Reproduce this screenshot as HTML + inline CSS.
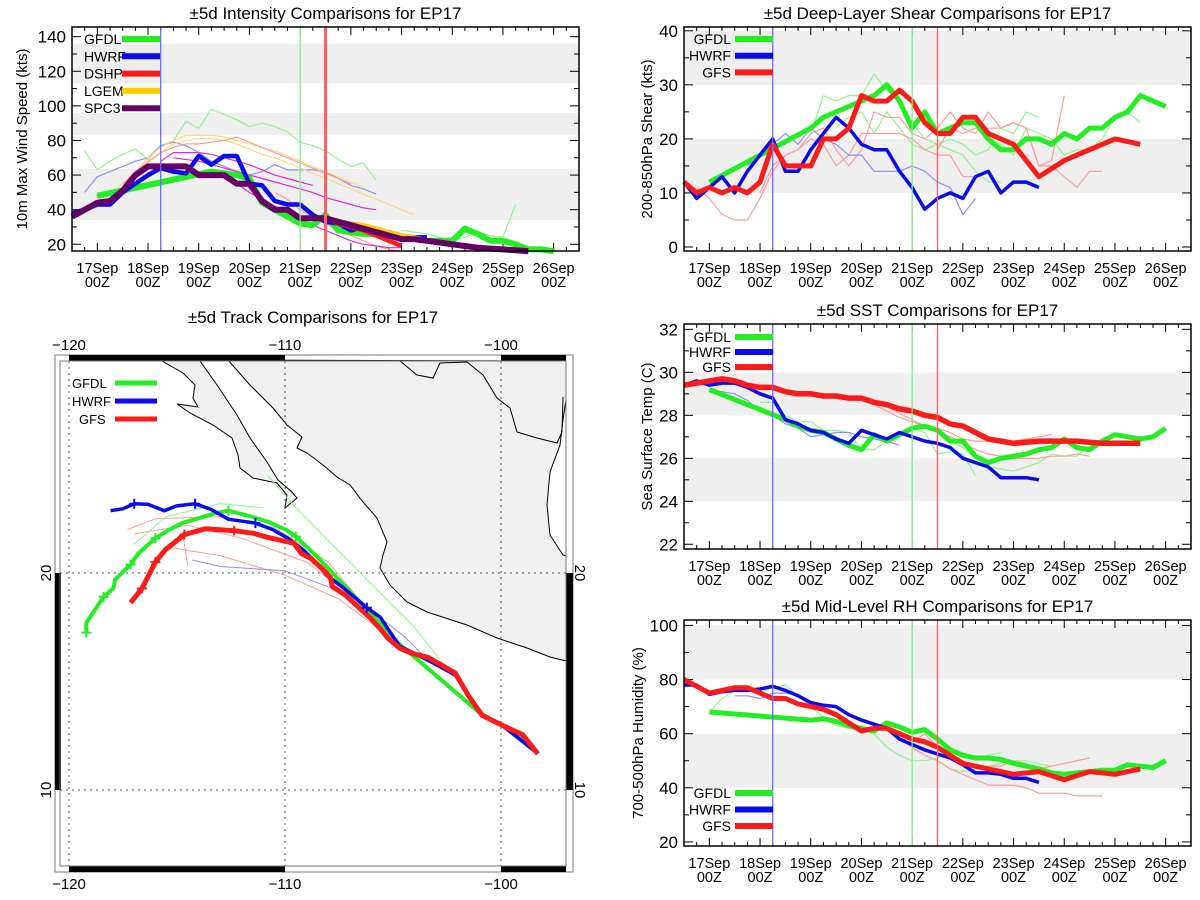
<!DOCTYPE html>
<html><head><meta charset="utf-8"><title>EP17 comparisons</title>
<style>
html,body{margin:0;padding:0;background:#fff;}
svg{display:block;font-family:"Liberation Sans",sans-serif;}
</style></head>
<body>
<svg id="root" width="1200" height="900" viewBox="0 0 1200 900" xmlns="http://www.w3.org/2000/svg"></svg>
<script>
// ---------- shared categories ----------
const dayLabels = ['17Sep','18Sep','19Sep','20Sep','21Sep','22Sep','23Sep','24Sep','25Sep','26Sep'];
const hourLabel = '00Z';
const refLineTimes = [1.25, 4.0, 4.5];

// ---------- intensity data (kts) ----------
const intTicks = [20,40,60,80,100,120,140];
const intBands = [[34,63.5],[83,96],[113,136]];
const intGFDLTimes = [0,2.25,2.5,2.75,3.0,3.25,3.5,3.75,4.0,4.25,4.5,4.75,5.0,5.25,5.5,5.75,6,6.25,6.5,6.75,7,7.25,7.5,7.75,8,8.25,8.5,8.75,9];
const intGFDL = [48,62,61,60,58,44,40,36,32,31,37,28,27,26,26,25,24,23,22,22,22,29,26,22,22,20,17,17,16];
const intHWRF = [38,40,43,43,50,55,60,64,62,61,71,66,71,71,55,54,45,43,43,37,33,32,28,30,26,27,25,24,24];
const intDSHP = [35,32,30,28,25,22,19];
const intLGEM = [35,33,32,31,29,27,25,24,22,21,20,19,18,17.5,17,16.5,16];
const intSPC3 = [36,40,44,45,51,60,65,65,65,65,60,60,60,55,55,45,40,40,35,35,35,33,31,29,27,25,23,23,22,21,20,19,18,17.5,17,16.5,16];
const intThinGreen1 = [74,63,68,72,75,69,77,80,91,87,98,95,92,88,90,88,85,79,77,74,69,65,67,57];
const intThinGreen2 = [28,27,26,24,22,24,27,25,24,43];
const intThinBlue = [50,59,62,65,68,70,77,79,77,73,68,65,62,60,62,66,63,63,63,62,58,54,52,49];
const intThinOrange1 = [48,55,62,70,76,80,83,83,83,82,80,78,76,74,71,68,65,62,59,56,53];
const intThinOrange2 = [52,60,67,73,78,80,81,81,80,78,75,72,70,67,64,61,58,55,52,49,46,43,40,37];
const intThinPink1 = [55,62,68,73,76,78,78,79,80,82,79,76,73,70,67,64,61,58,55];
const intThinPink2 = [50,46,40,36,32,28,25,22,19,17,16];
const intThinMag1 = [68,73,73,73,72,70,68,66,63,60,58,56,54];
const intThinMag2 = [70,69,68,66,64,62,60,58,56,54,52,50,47,45,43,41,40];
const intThinMag3 = [58,55,50,46,42,38,34,31,28,25,22,20,19,18,18];

// ---------- shear data (kts) ----------
const shTicks = [0,10,20,30,40];
const shBands = [[10,20],[30,40]];
const shGFDLTimes = [0,2.0,2.25,2.5,2.75,3.0,3.25,3.5,3.75,4.0,4.25,4.5,4.75,5.0,5.25,5.5,5.75,6.0,6.25,6.5,6.75,7.0,7.25,7.5,7.75,8.0,8.25,8.5,8.75,9.0];
const shGFDL = [12,22,24,25,26,27,28,30,27,22,25,21,22,23,23,20,18,18,20,20,19,21,20,22,22,24,25,28,27,26];
const shHWRF = [12,9,11,13,10,14,17,20,14,14,18,21,24,22,19,18,18,14,11,7,9,10,9,13,14,10,12,12,11];
const shGFS = [12,10,11,10,11,10,12,19,15,15,15,20,20,22,28,27,27,29,27,23,21,21,24,24,21,20,19,16,13,14.5,16,17,18,19,20,19.5,19];
const shThinGreen1 = [21,28,27,28,28,32,29,27,23,20,19,18,17,14,12,12];
const shThinGreen2 = [22,24,25,21,25,22,19,18,19,20,19,17,18,22,21,25,24];
const shThinGreen3 = [20,19,17,22,21,20,17,18,18,20,24,25,23];
const shThinRed1 = [11,9,6,5,5,9,14,17,18,20,19,15,17,21,21,21,21,20,18,17,17,13,13];
const shThinRed2 = [10,15,17,18,21,22,18,15,18,25,24,24,21,20,22,25,22,21,25,22,23,22,15,16,28];
const shThinRed3 = [18,22,21,22,22,22,23,22,15,15,13,11,14,14];
const shThinBlue = [15,17,19,21,19,22,20,19,17,17,14,14,14,15,14,12,11,6,9];

// ---------- SST data (C) ----------
const sstTicks = [22,24,26,28,30,32];
const sstBands = [[24,26],[28,30]];
const sstGFDLTimes = [0,1.5,1.75,2.0,2.25,2.5,2.75,3.0,3.25,3.5,3.75,4.0,4.25,4.5,4.75,5.0,5.25,5.5,5.75,6.0,6.25,6.5,6.75,7.0,7.25,7.5,7.75,8.0,8.25,8.5,8.75,9.0];
const sstGFDL = [29.2,27.8,27.5,27.3,27.2,26.9,26.6,26.4,27.1,26.8,27.1,27.4,27.5,27.3,26.8,26.8,26.1,25.8,26.0,26.1,26.2,26.4,26.5,26.9,26.5,26.4,26.8,27.1,27.0,26.9,27.0,27.4];
const sstHWRF = [29.4,29.6,29.4,29.5,29.5,29.3,29.0,28.8,27.8,27.6,27.3,27.2,26.9,26.7,27.3,27.1,26.9,27.2,27.0,26.8,26.7,26.5,26.0,25.8,25.6,25.1,25.1,25.1,25.0];
const sstGFS = [29.4,29.5,29.6,29.7,29.6,29.4,29.3,29.3,29.1,29.0,29.0,28.9,28.9,28.8,28.8,28.6,28.5,28.3,28.2,28.0,27.9,27.6,27.5,27.2,26.9,26.8,26.7,26.75,26.8,26.8,26.8,26.8,26.75,26.7,26.7,26.7,26.7];
const sstThinGreen1 = [28.6,28.6,28.0,27.7,27.7,27.3,27.3,27.2,26.4,26.4,26.8,27.1,27.4,27.2,26.2,26.3,26.2,25.2];
const sstThinGreen2 = [27.2,26.8,26.5,26.0,25.6,25.5,25.4,25.6,25.8,26.2,26.1,26.1,26.6];
const sstThinBlue = [29.1,29.1,29.0,28.7,28.2,28.0,27.6,27.4,27.0,27.1,27.2,27.2,27.0,26.9,26.8,26.6];
const sstThinRed1 = [28.8,28.5,28.2,27.9,27.7,27.5,27.2,27.0,26.7,26.4,26.2,26.1,26.0,26.0,26.0,26.1,26.1,26.2,26.1];
const sstThinRed2 = [28.4,28.1,27.8,27.5,27.4,27.2,26.9,26.8,26.8,26.8,26.8,26.9,27.0,27.1];

// ---------- RH data (%) ----------
const rhTicks = [20,40,60,80,100];
const rhBands = [[40,60],[80,100]];
const rhGFDLTimes = [0,2.0,2.25,2.5,2.75,3.0,3.25,3.5,3.75,4.0,4.25,4.5,4.75,5.0,5.25,5.5,5.75,6.0,6.25,6.5,6.75,7.0,7.25,7.5,7.75,8.0,8.25,8.5,8.75,9.0];
const rhGFDL = [68,65,65.5,64.5,63,62,61,64,62.5,60.5,61.5,58,54,52,51,51,50.5,49,48,47,45.5,45,45.5,46,46.5,46.5,48.5,48,47.5,50];
const rhHWRF = [78,78,74.5,75.5,76,76,76.5,77.5,76,74,71.5,70.5,70,67,65,63.5,62,58,56,54,52.5,51,48.5,45.5,45.5,45,43.5,43.5,42];
const rhGFS = [80,77.5,75,76,77,77,75,73,73,71,70,69,67,64,61,62,62,60,58,57,55,52,49,48,47,46,45,45.5,46,44.5,43,44.5,46,45.5,45,46,47];
const rhThinGreen1 = [68,73,76,76,75,77,78,74,70,66,63,62,61,60,55,52,50,50,51,53,52,51,52,53];
const rhThinGreen2 = [62,60,55,52,50,47,46,47,48,49,50,50,49,48];
const rhThinBlue = [74,74,73,75,75,74,71,69,67,64,61];
const rhThinRed1 = [62,58,55,52,50,47,45,43,41,41,41,40,38,38,38,37,37,37];
const rhThinRed2 = [57,60,55,52,49,48,48,48,50,49,47,48,49,50,51];

// ---------- track data (lon, lat) ----------
const lonTicks = [-120,-110,-100];
const latTicks = [10,20];
const trkGFSLon = [-117.15,-116.62,-116.0,-115.55,-114.66,-113.68,-112.35,-111.46,-110.84,-110.04,-109.59,-109.23,-108.79,-108.26,-107.90,-107.81,-107.19,-106.57,-106.03,-105.59,-105.23,-104.70,-104.16,-103.36,-102.12,-101.50,-100.87,-99.98,-99.00,-98.29];
const trkGFSLat = [18.63,19.29,20.5,21.06,21.77,22.04,21.95,21.83,21.65,21.47,21.37,20.89,20.67,20.18,19.79,19.38,18.97,18.40,17.91,17.43,16.99,16.54,16.31,16.10,15.39,14.33,13.44,13.00,12.55,11.67];
const trkHWRFLon = [-118.08,-117.51,-116.98,-116.35,-115.59,-115.02,-114.16,-113.42,-112.62,-111.37,-110.57,-109.86,-109.15,-108.61,-108.08,-107.37,-106.21,-105.59,-104.70,-103.27,-102.12,-100.87,-99.98,-99.18,-98.29];
const trkHWRFLat = [22.87,22.96,23.19,23.17,22.87,23.09,23.19,22.93,22.48,22.30,22.00,21.60,21.06,20.53,19.91,19.38,18.40,17.96,16.63,15.92,15.30,13.44,13.00,12.38,11.67];
const trkGFDLLon = [-119.20,-119.20,-118.40,-117.95,-117.86,-117.15,-116.80,-116.0,-115.37,-114.75,-113.24,-112.62,-111.46,-110.75,-109.95,-109.50,-108.43,-104.70,-100.96,-99.98,-99.0,-98.29];
const trkGFDLLat = [17.25,17.70,18.90,19.29,19.70,20.39,20.89,21.60,21.99,22.30,22.75,22.87,22.57,22.34,21.99,21.68,20.67,16.72,13.53,13.00,12.38,11.67];
const trkGFSMarkIdx = [1,2,4,6];
const trkHWRFMarkIdx = [2,6,9,16];
const trkGFDLMarkIdx = [0,2,5,7,11,15];
const trkThinPink1Lon = [-117.3,-116,-113,-110.5,-108,-105.5];
const trkThinPink1Lat = [22.0,22.5,22.6,22.1,20.5,17.5];
const trkThinPink2Lon = [-117,-114.5,-112,-109,-106.5,-105];
const trkThinPink2Lat = [21.8,22.2,21.6,20.5,18.6,17];
const trkThinPink3Lon = [-115.5,-113,-110,-107.5,-105.5];
const trkThinPink3Lat = [21.2,20.8,19.9,18.8,17.3];
const trkThinPink4Lon = [-114.7,-114.5];
const trkThinPink4Lat = [21.6,20.3];
const trkThinGreen1Lon = [-110.8,-109.5,-108,-106.5,-104,-102.2];
const trkThinGreen1Lat = [24.5,23.0,21.5,20.0,17.5,15.2];
const trkThinGreen2Lon = [-117,-115.5,-113,-111];
const trkThinGreen2Lat = [21.3,22.6,23.2,23.0];
const trkThinBlueLon = [-114.3,-113,-110,-107,-104.5,-103.3];
const trkThinBlueLat = [20.6,20.3,20.1,19.0,17.1,15.9];

// ---------- colors ----------
const C = {green:'#22ee22', blue:'#0a0aee', red:'#ff1a1a', gold:'#ffcc00', purple:'#660066',
  lgreen:'#8ef58e', lblue:'#8f8ff5', lred:'#ff9b9b', lgold:'#ffd97a', lpink:'#ff9fc0', mag:'#e22ae2'};

const NS = 'http://www.w3.org/2000/svg';
const root = document.getElementById('root');
function mk(tag, attrs, parent){
  const e = document.createElementNS(NS, tag);
  for (const k in attrs) e.setAttribute(k, attrs[k]);
  (parent||root).appendChild(e);
  return e;
}
function txt(s, x, y, size, anchor, parent, extra){
  const a = {x:x, y:y, 'font-size':size, 'text-anchor':anchor||'middle', fill:'#000'};
  if (extra) for (const k in extra) a[k] = extra[k];
  const t = mk('text', a, parent);
  t.textContent = s;
  return t;
}

function timePanel(p){
  const g = mk('g', {});
  
  
  const xs = t => p.L + (t - p.t0) / (p.t1 - p.t0) * (p.R - p.L);
  const ys = v => p.B - (v - p.vmin) / (p.vmax - p.vmin) * (p.B - p.T);
  p.bands.forEach(b => {
    const top = Math.min(b[1], p.vmax);
    const r = mk('rect', {x:p.L, y:ys(top), width:p.R-p.L, height:ys(b[0])-ys(top), fill:'#efefef'}, g);
    
    
  });
  const tt = txt(p.title, (p.L+p.R)/2, p.T-8, 17, 'middle', g);
  
  
  const yt = txt(p.ytitle, 0, 0, 15, 'middle', g, {transform:'translate('+p.ytx+','+((p.T+p.B)/2)+') rotate(-90)'});
  
  
  const step = p.yticks[1]-p.yticks[0];
  for (let v = p.yticks[0]-step/2; v <= p.vmax; v += step/2){
    if (v < p.vmin) continue;
    const major = p.yticks.indexOf(v) >= 0;
    const len = major ? 9 : 5;
    mk('line', {x1:p.L, x2:p.L+len, y1:ys(v), y2:ys(v), stroke:'#000', 'stroke-width':1}, g);
    mk('line', {x1:p.R, x2:p.R-len, y1:ys(v), y2:ys(v), stroke:'#000', 'stroke-width':1}, g);
  }
  p.yticks.forEach(v => {
    const l = txt(String(v), p.L-6, ys(v)+6, 17, 'end', g);
    
    
  });
  for (let t = p.t0; t <= p.t1 + 1e-6; t += 0.25){
    const major = Math.abs(t - Math.round(t)) < 1e-6;
    const len = major ? 8 : 4;
    mk('line', {x1:xs(t), x2:xs(t), y1:p.B, y2:p.B-len, stroke:'#000', 'stroke-width':1}, g);
    mk('line', {x1:xs(t), x2:xs(t), y1:p.T, y2:p.T+len, stroke:'#000', 'stroke-width':1}, g);
  }
  dayLabels.forEach((d, i) => {
    const a = txt(d, xs(i), p.B+22, 14.5, 'middle', g);
    
    
    const b = txt(hourLabel, xs(i), p.B+36, 14.5, 'middle', g);
    
    
  });
  p.series.forEach(s => {
    const times = s.times || s.vals.map((_, i) => s.start + i*0.25);
    const pts = s.vals.map((v, i) => xs(times[i]).toFixed(1)+','+ys(v).toFixed(1)).join(' ');
    const pl = mk('polyline', {points:pts, fill:'none', stroke:s.color, 'stroke-width':s.w, 'stroke-linejoin':'round'}, g);
    
    
  });
  const refColors = ['#6a6aff', '#7cf07c', '#ff6060'];
  refLineTimes.forEach((t, i) => {
    const l = mk('line', {x1:xs(t), x2:xs(t), y1:p.T, y2:p.B, stroke:refColors[i], 'stroke-width': (i===2 && p.wideRed) ? 3 : 1.3}, g);
    
    
  });
  const fr = mk('rect', {x:p.L, y:p.T, width:p.R-p.L, height:p.B-p.T, fill:'none', stroke:'#000', 'stroke-width':1.5}, g);
  
  
  p.legend.forEach((e, i) => {
    const y = p.legY + i*p.legDy;
    const lt = txt(e[0], p.legTx, y+5, 14, p.legAnchor||'start', g);
    
    
    const ll = mk('line', {x1:p.legX1, x2:p.legX2, y1:y, y2:y, stroke:e[1], 'stroke-width':6}, g);
    
    
  });
}

// Intensity
timePanel({name:'intensity-panel', title:'\u00b15d Intensity Comparisons for EP17', ytitle:'10m Max Wind Speed (kts)', ytx:27,
  L:72, R:579, T:27, B:251, t0:-0.5, t1:9.5, vmin:16.1, vmax:145.6, yticks:intTicks, bands:intBands, wideRed:true,
  legend:[['GFDL',C.green],['HWRF',C.blue],['DSHP',C.red],['LGEM',C.gold],['SPC3',C.purple]],
  legY:39, legDy:17.3, legTx:84, legX1:122, legX2:160,
  series:[
    {vals:intThinGreen1, start:-0.25, color:C.lgreen, w:1.2, name:'gfdl-prev-run'},
    {vals:intThinGreen2, start:6.0, color:C.lgreen, w:1.2, name:'gfdl-prev-run'},
    {vals:intThinBlue, start:-0.25, color:C.lblue, w:1.2, name:'hwrf-prev-run'},
    {vals:intThinOrange1, start:0.25, color:C.lgold, w:1.2, name:'lgem-prev-run'},
    {vals:intThinOrange2, start:0.5, color:C.lgold, w:1.2, name:'lgem-prev-run'},
    {vals:intThinPink1, start:0.5, color:C.lred, w:1.2, name:'dshp-prev-run'},
    {vals:intThinPink2, start:3.5, color:C.lred, w:1.2, name:'dshp-prev-run'},
    {vals:intThinMag1, start:1.25, color:C.mag, w:1.2, name:'spc3-prev-run'},
    {vals:intThinMag2, start:1.5, color:C.mag, w:1.2, name:'spc3-prev-run'},
    {vals:intThinMag3, start:2.5, color:C.mag, w:1.2, name:'spc3-prev-run'},
    {vals:intGFDL, times:intGFDLTimes, color:C.green, w:6, name:'gfdl-intensity-line'},
    {vals:intHWRF, start:-0.5, color:C.blue, w:4.5, name:'hwrf-intensity-line'},
    {vals:intDSHP, start:4.5, color:C.red, w:4.5, name:'dshp-intensity-line'},
    {vals:intLGEM, start:4.5, color:C.gold, w:4.5, name:'lgem-intensity-line'},
    {vals:intSPC3, start:-0.5, color:C.purple, w:6, name:'spc3-intensity-line'}
  ]});

// Shear
timePanel({name:'shear-panel', title:'\u00b15d Deep-Layer Shear Comparisons for EP17', ytitle:'200-850hPa Shear (kts)', ytx:652,
  L:684, R:1191, T:27, B:251, t0:-0.5, t1:9.5, vmin:-0.74, vmax:40.7, yticks:shTicks, bands:shBands,
  legend:[['GFDL',C.green],['HWRF',C.blue],['GFS',C.red]],
  legY:39, legDy:16.7, legTx:731, legAnchor:'end', legX1:735, legX2:773,
  series:[
    {vals:shThinGreen1, start:2.0, color:C.lgreen, w:1.2, name:'gfdl-prev-run'},
    {vals:shThinGreen2, start:2.5, color:C.lgreen, w:1.2, name:'gfdl-prev-run'},
    {vals:shThinGreen3, start:5.5, color:C.lgreen, w:1.2, name:'gfdl-prev-run'},
    {vals:shThinRed1, start:-0.25, color:C.lred, w:1.2, name:'gfs-prev-run'},
    {vals:shThinRed2, start:1.0, color:C.lred, w:1.2, name:'gfs-prev-run'},
    {vals:shThinRed3, start:4.5, color:C.lred, w:1.2, name:'gfs-prev-run'},
    {vals:shThinBlue, start:0.75, color:C.lblue, w:1.2, name:'hwrf-prev-run'},
    {vals:shGFDL, times:shGFDLTimes, color:C.green, w:5, name:'gfdl-shear-line'},
    {vals:shHWRF, start:-0.5, color:C.blue, w:3.5, name:'hwrf-shear-line'},
    {vals:shGFS, start:-0.5, color:C.red, w:5, name:'gfs-shear-line'}
  ]});

// SST
timePanel({name:'sst-panel', title:'\u00b15d SST Comparisons for EP17', ytitle:'Sea Surface Temp (C)', ytx:652,
  L:684, R:1191, T:324, B:549, t0:-0.5, t1:9.5, vmin:21.78, vmax:32.25, yticks:sstTicks, bands:sstBands,
  legend:[['GFDL',C.green],['HWRF',C.blue],['GFS',C.red]],
  legY:337, legDy:15, legTx:731, legAnchor:'end', legX1:735, legX2:773,
  series:[
    {vals:sstThinGreen1, start:1.0, color:C.lgreen, w:1.2, name:'gfdl-prev-run'},
    {vals:sstThinGreen2, start:4.5, color:C.lgreen, w:1.2, name:'gfdl-prev-run'},
    {vals:sstThinBlue, start:0, color:C.lblue, w:1.2, name:'hwrf-prev-run'},
    {vals:sstThinRed1, start:3.0, color:C.lred, w:1.2, name:'gfs-prev-run'},
    {vals:sstThinRed2, start:3.5, color:C.lred, w:1.2, name:'gfs-prev-run'},
    {vals:sstGFDL, times:sstGFDLTimes, color:C.green, w:5, name:'gfdl-sst-line'},
    {vals:sstHWRF, start:-0.5, color:C.blue, w:3.5, name:'hwrf-sst-line'},
    {vals:sstGFS, start:-0.5, color:C.red, w:5.5, name:'gfs-sst-line'}
  ]});

// RH
timePanel({name:'rh-panel', title:'\u00b15d Mid-Level RH Comparisons for EP17', ytitle:'700-500hPa Humidity (%)', ytx:643,
  L:684, R:1191, T:620, B:846, t0:-0.5, t1:9.5, vmin:18.5, vmax:102, yticks:rhTicks, bands:rhBands,
  legend:[['GFDL',C.green],['HWRF',C.blue],['GFS',C.red]],
  legY:793, legDy:16.5, legTx:731, legAnchor:'end', legX1:735, legX2:773,
  series:[
    {vals:rhThinGreen1, start:0, color:C.lgreen, w:1.2, name:'gfdl-prev-run'},
    {vals:rhThinGreen2, start:3.5, color:C.lgreen, w:1.2, name:'gfdl-prev-run'},
    {vals:rhThinBlue, start:0.5, color:C.lblue, w:1.2, name:'hwrf-prev-run'},
    {vals:rhThinRed1, start:3.5, color:C.lred, w:1.2, name:'gfs-prev-run'},
    {vals:rhThinRed2, start:4.0, color:C.lred, w:1.2, name:'gfs-prev-run'},
    {vals:rhGFDL, times:rhGFDLTimes, color:C.green, w:5, name:'gfdl-rh-line'},
    {vals:rhHWRF, start:-0.5, color:C.blue, w:3.5, name:'hwrf-rh-line'},
    {vals:rhGFS, start:-0.5, color:C.red, w:5, name:'gfs-rh-line'}
  ]});

// ---------- Track map ----------
(function(){
  const g = mk('g', {});
  
  
  const IL = 60, IR = 566, IT = 361, IB = 866;
  const px = lon => 69 + (lon + 120) * 21.6;
  const py = lat => 573 - (lat - 20) * 21.7;
  const t = txt('\u00b15d Track Comparisons for EP17', 313, 323, 17, 'middle', g);
  
  
  const main = mk('polygon', {points:'228,360 250,385 273,408 287,425 302,437 297,448 307,453 323,465 337,477 350,485 363,502 377,518 387,542 383,555 380,568 390,585 407,602 427,612 467,625 497,638 527,648 550,657 566,661 566,556 563,555 550,535 547,505 550,472 560,445 563,420 566,400 566,361', fill:'#f0f0f0', stroke:'#000', 'stroke-width':1}, g);
  
  
  const baja = mk('polygon', {points:'162,361 183,373 195,385 193,398 198,407 177,404 190,413 213,425 232,438 238,455 240,468 253,478 277,483 287,495 285,508 297,498 292,492 278,480 267,462 250,438 237,415 217,385 200,361', fill:'#f0f0f0', stroke:'#000', 'stroke-width':1}, g);
  
  
  const border = mk('polyline', {points:'400,361 417,375 433,378 440,363 467,362 483,375 497,398 510,408 517,432 537,438 557,443 562,432 563,397', fill:'none', stroke:'#000', 'stroke-width':1}, g);
  
  
  lonTicks.forEach(lon => {
    const l = mk('line', {x1:px(lon), x2:px(lon), y1:IT, y2:IB, stroke:'#555', 'stroke-width':1, 'stroke-dasharray':'2,4'}, g);
    
    
  });
  latTicks.forEach(lat => {
    const l = mk('line', {x1:IL, x2:IR, y1:py(lat), y2:py(lat), stroke:'#555', 'stroke-width':1, 'stroke-dasharray':'2,4'}, g);
    
    
  });
  function track(lons, lats, color, w, name){
    const pts = lons.map((lo, i) => px(lo).toFixed(1)+','+py(lats[i]).toFixed(1)).join(' ');
    const pl = mk('polyline', {points:pts, fill:'none', stroke:color, 'stroke-width':w, 'stroke-linejoin':'round'}, g);
    
    
  }
  function marks(lons, lats, idx, color){
    idx.forEach(i => {
      const x = px(lons[i]), y = py(lats[i]);
      const m = mk('path', {d:'M'+(x-5)+','+y+'H'+(x+5)+'M'+x+','+(y-5)+'V'+(y+5), stroke:color, 'stroke-width':2}, g);
      
      
    });
  }
  track(trkThinPink1Lon, trkThinPink1Lat, C.lred, 1, 'gfs-prev-track');
  track(trkThinPink2Lon, trkThinPink2Lat, C.lred, 1, 'gfs-prev-track');
  track(trkThinPink3Lon, trkThinPink3Lat, C.lred, 1, 'gfs-prev-track');
  track(trkThinPink4Lon, trkThinPink4Lat, C.lred, 1, 'gfs-prev-track');
  track(trkThinGreen1Lon, trkThinGreen1Lat, C.lgreen, 1, 'gfdl-prev-track');
  track(trkThinGreen2Lon, trkThinGreen2Lat, C.lgreen, 1, 'gfdl-prev-track');
  track(trkThinBlueLon, trkThinBlueLat, C.lblue, 1, 'hwrf-prev-track');
  track(trkGFDLLon, trkGFDLLat, C.green, 4, 'gfdl-track');
  track(trkHWRFLon, trkHWRFLat, C.blue, 3.5, 'hwrf-track');
  track(trkGFSLon, trkGFSLat, C.red, 5, 'gfs-track');
  marks(trkGFDLLon, trkGFDLLat, trkGFDLMarkIdx, C.green);
  marks(trkHWRFLon, trkHWRFLat, trkHWRFMarkIdx, C.blue);
  marks(trkGFSLon, trkGFSLat, trkGFSMarkIdx, C.red);
  const fo = mk('rect', {x:55, y:355, width:518, height:517, fill:'none', stroke:'#777', 'stroke-width':1}, g);
  
  
  [[px(-120), px(-110)], [px(-100), IR]].forEach(s => {
    mk('rect', {x:s[0], y:355, width:s[1]-s[0], height:6, fill:'#000'}, g);
    mk('rect', {x:s[0], y:IB, width:s[1]-s[0], height:6, fill:'#000'}, g);
  });
  mk('rect', {x:55, y:py(20), width:6, height:py(10)-py(20), fill:'#000'}, g);
  mk('rect', {x:IR, y:py(20), width:7, height:py(10)-py(20), fill:'#000'}, g);
  const fi = mk('rect', {x:IL, y:IT, width:IR-IL, height:IB-IT, fill:'none', stroke:'#777', 'stroke-width':1}, g);
  
  
  lonTicks.forEach(lon => {
    const a = txt('\u2212' + Math.abs(lon), px(lon), 350, 15, 'middle', g);
    
    
    const b = txt('\u2212' + Math.abs(lon), px(lon), 889, 15, 'middle', g);
    
    
  });
  latTicks.forEach(lat => {
    const a = txt(String(lat), 0, 0, 15, 'middle', g, {transform:'translate(51,'+py(lat)+') rotate(-90)'});
    
    
    const b = txt(String(lat), 0, 0, 15, 'middle', g, {transform:'translate(575,'+py(lat)+') rotate(90)'});
    
    
  });
  [['GFDL',C.green,'start',72],['HWRF',C.blue,'start',72],['GFS',C.red,'start',79]].forEach((e, i) => {
    const y = 383 + i*18;
    const lt = txt(e[0], e[3], y+5, 13, e[2], g);
    
    
    const ll = mk('line', {x1:115, x2:157, y1:y, y2:y, stroke:e[1], 'stroke-width':5}, g);
    
    
  });
})();
</script>
</body></html>
